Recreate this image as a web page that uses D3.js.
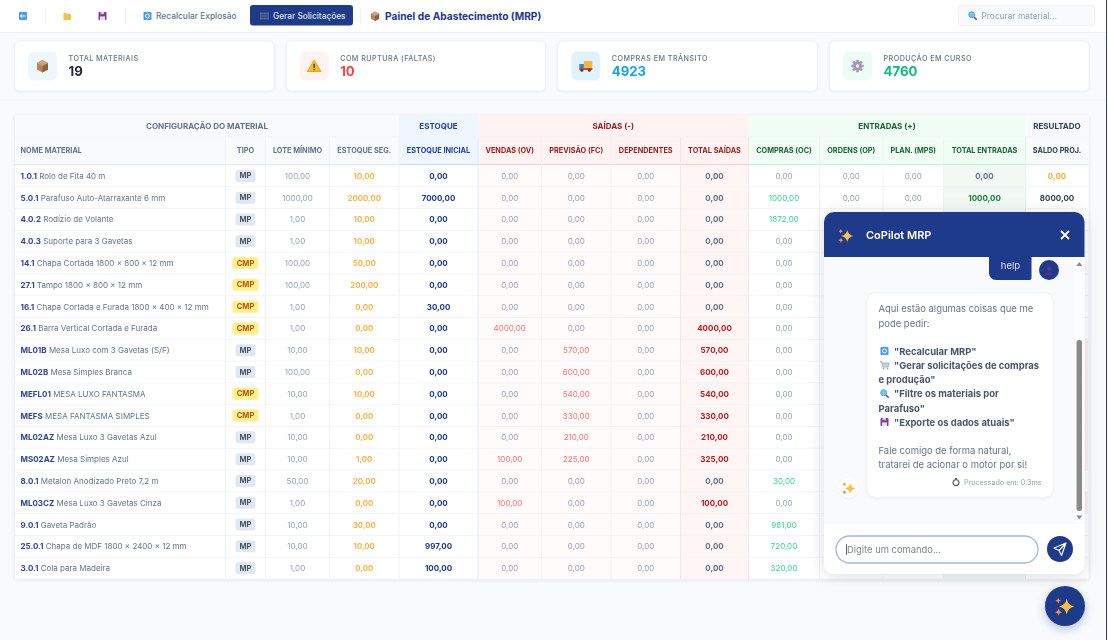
<!DOCTYPE html>
<html>
<head>
<meta charset="utf-8">
<script src="https://cdn.jsdelivr.net/npm/d3@7/dist/d3.min.js"></script>
<style>
  html, body { margin: 0; padding: 0; background: #f8fafc; overflow: hidden; }
  svg { display: block; font-family: Inter, "Noto Sans", sans-serif; filter: blur(0.3px); }
  text { dominant-baseline: central; }
</style>
</head>
<body>
<svg id="svg" width="1108" height="640"></svg>
<script>
// table values
var codes = ['1.0.1','5.0.1','4.0.2','4.0.3','14.1','27.1','16.1','26.1','ML01B','ML02B','MEFL01','MEFS','ML02AZ','MS02AZ','8.0.1','ML03CZ','9.0.1','25.0.1','3.0.1'];
var names = ['Rolo de Fita 40 m','Parafuso Auto-Atarraxante 6 mm','Rodízio de Volante','Suporte para 3 Gavetas','Chapa Cortada 1800 × 800 × 12 mm','Tampo 1800 × 800 × 12 mm','Chapa Cortada e Furada 1800 × 400 × 12 mm','Barra Vertical Cortada e Furada','Mesa Luxo com 3 Gavetas (S/F)','Mesa Simples Branca','MESA LUXO FANTASMA','MESA FANTASMA SIMPLES','Mesa Luxo 3 Gavetas Azul','Mesa Simples Azul','Metalon Anodizado Preto 7,2 m','Mesa Luxo 3 Gavetas Cinza','Gaveta Padrão','Chapa de MDF 1800 × 2400 × 12 mm','Cola para Madeira'];
var tipos = ['MP','MP','MP','MP','CMP','CMP','CMP','CMP','MP','MP','CMP','CMP','MP','MP','MP','MP','MP','MP','MP'];
var loteMinimo = [100,1000,1,1,100,100,1,1,10,100,10,1,10,10,50,1,10,10,1];
var estoqueSeg = [10,2000,10,10,50,200,0,0,10,0,10,0,0,1,20,0,30,10,0];
var estoqueInicial = [0,7000,0,0,0,0,30,0,0,0,0,0,0,0,0,0,0,997,100];
var vendas = [0,0,0,0,0,0,0,4000,0,0,0,0,0,100,0,100,0,0,0];
var previsao = [0,0,0,0,0,0,0,0,570,600,540,330,210,225,0,0,0,0,0];
var dependentes = [0,0,0,0,0,0,0,0,0,0,0,0,0,0,0,0,0,0,0];
var totalSaidas = [0,0,0,0,0,0,0,4000,570,600,540,330,210,325,0,100,0,0,0];
var compras = [0,1000,1872,0,0,0,0,0,0,0,0,0,0,0,30,0,981,720,320];
// the chat panel hides these columns below the second row
var ordens = [0,0];
var planMps = [0,0];
var totalEntradas = [0,1000];
var saldoProj = [0,8000];
// rows whose saldo cell shows a red tint past the panel edge
var saldoRuptura = [8,9,10,11,12,13,15];

var colKeys = ['nome','tipo','lote','seg','inicial','vendas','prev','dep','tsai','comp','ord','plan','tent','saldo'];
var colLabels = ['NOME MATERIAL','TIPO','LOTE MÍNIMO','ESTOQUE SEG.','ESTOQUE INICIAL','VENDAS (OV)','PREVISÃO (FC)','DEPENDENTES','TOTAL SAÍDAS','COMPRAS (OC)','ORDENS (OP)','PLAN. (MPS)','TOTAL ENTRADAS','SALDO PROJ.'];
var colEdges = [15,225.5,265.5,329.5,399,478,541.5,611,680.5,748.5,819.5,883,943.5,1025.5,1088.5];

var groupLabels = ['CONFIGURAÇÃO DO MATERIAL','ESTOQUE','SAÍDAS (-)','ENTRADAS (+)','RESULTADO'];
var groupSpans = [[0,4],[4,5],[5,9],[9,13],[13,14]];
var groupFill = ['#f8fafc','#eff6ff','#fef2f2','#f0fdf4','#f8fafc'];
var groupText = ['#64748b','#1e40af','#991b1b','#166534','#334155'];
var groupLine = ['#e2e8f0','#bfdbfe','#fecaca','#bbf7d0','#e2e8f0'];

var kpiLabels = ['TOTAL MATERIAIS','COM RUPTURA (FALTAS)','COMPRAS EM TRÂNSITO','PRODUÇÃO EM CURSO'];
var kpiValues = ['19','10','4923','4760'];
var kpiColors = ['#1e293b','#ef4444','#0ea5e9','#10b981'];
var kpiTints = ['#eff6ff','#fef2f2','#e0f2fe','#ecfdf5'];
var kpiIcons = ['box','warn','truck','gear'];

var chatLines = [
  {t:'Aqui estão algumas coisas que me', y:308},
  {t:'pode pedir:', y:323},
  {t:'"Recalcular MRP"', y:351, b:1, icon:'refresh'},
  {t:'"Gerar solicitações de compras', y:365, b:1, icon:'cart'},
  {t:'e produção"', y:379.5, b:1, flush:1},
  {t:'"Filtre os materiais por', y:393.5, b:1, icon:'lens'},
  {t:'Parafuso"', y:408, b:1, flush:1},
  {t:'"Exporte os dados atuais"', y:422, b:1, icon:'floppy'},
  {t:'Fale comigo de forma natural,', y:450},
  {t:'tratarei de acionar o motor por si!', y:464}
];

var NAVY = '#1e3a8a';
var svg = d3.select('#svg');
var fmt = function(v) { return d3.format('.2f')(v).replace('.', ','); };

var colLeft = d3.scaleOrdinal(colKeys, colEdges.slice(0, -1));
var colRight = d3.scaleOrdinal(colKeys, colEdges.slice(1));
var colMid = function(k) { return (colLeft(k) + colRight(k)) / 2; };
var rowY = d3.scaleBand().domain(d3.range(codes.length)).range([165, 579]);

drawToolbar();
drawKpis();
drawTable();
drawChat();

function txt(g, x, y, s, size, color, weight, anchor) {
  return g.append('text').attr('x', x).attr('y', y).text(s)
    .attr('font-size', size).attr('fill', color)
    .attr('font-weight', weight || 400).attr('text-anchor', anchor || 'start');
}

// small hand drawn stand-ins for the emoji, no emoji font here
function icon(g, type, cx, cy, s) {
  var i = g.append('g').attr('transform', 'translate(' + cx + ',' + cy + ') scale(' + (s || 1) + ')');
  if (type === 'box') {
    i.append('path').attr('d', 'M0,-6 L5.5,-3 L5.5,3.5 L0,6.5 L-5.5,3.5 L-5.5,-3 Z').attr('fill', '#b5835a');
    i.append('path').attr('d', 'M0,0 L5.5,-3 L5.5,3.5 L0,6.5 Z').attr('fill', '#8d6239');
    i.append('path').attr('d', 'M0,-6 L5.5,-3 L0,0 L-5.5,-3 Z').attr('fill', '#d0a27a');
  } else if (type === 'warn') {
    i.append('path').attr('d', 'M0,-6 L6.8,5.5 L-6.8,5.5 Z').attr('fill', '#fbbf24').attr('stroke', '#f59e0b').attr('stroke-linejoin', 'round');
    i.append('rect').attr('x', -0.7).attr('y', -2.2).attr('width', 1.4).attr('height', 4.2).attr('fill', '#334155');
    i.append('circle').attr('cy', 3.6).attr('r', 0.8).attr('fill', '#334155');
  } else if (type === 'truck') {
    i.append('rect').attr('x', -2).attr('y', -5).attr('width', 8.5).attr('height', 7).attr('fill', '#f5b942');
    i.append('rect').attr('x', -6.5).attr('y', -2).attr('width', 4.5).attr('height', 4).attr('fill', '#3b82c4');
    i.append('rect').attr('x', -6.5).attr('y', 2).attr('width', 13).attr('height', 2).attr('fill', '#dc3f3f');
    i.selectAll('circle').data([-4, 3.5]).enter().append('circle').attr('cx', function(d) { return d; }).attr('cy', 4.3).attr('r', 1.5).attr('fill', '#374151');
  } else if (type === 'gear') {
    i.selectAll('rect').data(d3.range(8)).enter().append('rect')
      .attr('x', -1.3).attr('y', -6.2).attr('width', 2.6).attr('height', 3)
      .attr('fill', '#a394bd').attr('transform', function(d) { return 'rotate(' + d * 45 + ')'; });
    i.append('circle').attr('r', 4.2).attr('fill', '#a394bd');
    i.append('circle').attr('r', 1.7).attr('fill', '#ecfdf5');
  } else if (type === 'back' || type === 'refresh') {
    i.append('rect').attr('x', -4).attr('y', -4).attr('width', 8).attr('height', 8).attr('rx', 1).attr('fill', '#4a9ae8');
    if (type === 'back') {
      i.append('path').attr('d', 'M2.5,0 L-2.5,0 M-0.5,-1.8 L-2.5,0 L-0.5,1.8').attr('stroke', '#fff').attr('stroke-width', 1).attr('fill', 'none');
    } else {
      i.append('circle').attr('r', 2).attr('fill', 'none').attr('stroke', '#fff').attr('stroke-width', 1);
    }
  } else if (type === 'folder') {
    i.append('path').attr('d', 'M-4,-3.5 L-1,-3.5 L0,-2.5 L3.5,-2.5 L3.5,3.5 L-4,3.5 Z').attr('fill', '#f9c04e');
  } else if (type === 'floppy') {
    i.append('rect').attr('x', -4).attr('y', -4).attr('width', 8).attr('height', 8).attr('rx', 0.8).attr('fill', '#7b3f8f');
    i.append('rect').attr('x', -2.5).attr('y', 0.4).attr('width', 5).attr('height', 3.6).attr('fill', '#eadcf0');
    i.append('rect').attr('x', -2).attr('y', -4).attr('width', 3.6).attr('height', 2.2).attr('fill', '#d9c7e2');
  } else if (type === 'cart') {
    i.append('path').attr('d', 'M-4.5,-3.5 L-3,-3.5 L-1.5,2 L3.5,2 L4.5,-2 L-2.5,-2').attr('fill', '#cbd5e1').attr('stroke', '#94a3b8').attr('stroke-width', 0.8);
    i.selectAll('circle').data([-1, 3]).enter().append('circle').attr('cx', function(d) { return d; }).attr('cy', 3.6).attr('r', 0.9).attr('fill', '#94a3b8');
  } else if (type === 'lens') {
    i.append('path').attr('d', 'M1.5,1.5 L4.2,4.2').attr('stroke', '#8b3a8f').attr('stroke-width', 1.6);
    i.append('circle').attr('cx', -0.8).attr('cy', -0.8).attr('r', 3).attr('fill', '#7cc4ef').attr('stroke', '#3a9ad9').attr('stroke-width', 0.8);
  } else if (type === 'cogs') {
    i.append('rect').attr('x', -4.5).attr('y', -3.5).attr('width', 9).attr('height', 7).attr('fill', '#64748b').attr('opacity', 0.85);
    i.append('path').attr('d', 'M-4.5,-1 H4.5 M-4.5,1 H4.5 M-1.5,-3.5 V3.5 M1.5,-3.5 V3.5').attr('stroke', '#1e3a8a').attr('stroke-width', 0.6);
  } else if (type === 'clock') {
    i.append('circle').attr('cy', 0.6).attr('r', 3).attr('fill', '#fff').attr('stroke', '#6b5a80').attr('stroke-width', 1.2);
    i.append('rect').attr('x', -1).attr('y', -4).attr('width', 2).attr('height', 1.2).attr('fill', '#6b5a80');
  } else if (type === 'spark') {
    var star = 'M0,-5 Q0.8,-0.8 5,0 Q0.8,0.8 0,5 Q-0.8,0.8 -5,0 Q-0.8,-0.8 0,-5 Z';
    i.append('path').attr('d', star).attr('fill', '#fbbf4a').attr('transform', 'translate(1.2,0.4) scale(1.15)');
    i.append('path').attr('d', star).attr('fill', '#f98f3c').attr('transform', 'translate(-5,-4) scale(0.42)');
    i.append('path').attr('d', star).attr('fill', '#f98f3c').attr('transform', 'translate(-4.8,4.6) scale(0.5)');
  }
  return i;
}

function drawToolbar() {
  var g = svg.append('g');
  g.append('rect').attr('width', 1108).attr('height', 32).attr('fill', '#ffffff');
  g.append('line').attr('x1', 0).attr('x2', 1108).attr('y1', 32.5).attr('y2', 32.5).attr('stroke', '#edf0f5');
  g.selectAll('line.sep').data([45.5, 125.5, 360.5]).enter().append('line').attr('class', 'sep')
    .attr('x1', function(d) { return d; }).attr('x2', function(d) { return d; })
    .attr('y1', 8).attr('y2', 24).attr('stroke', '#eef1f5');
  icon(g, 'back', 23, 16);
  icon(g, 'folder', 67.5, 16.5);
  icon(g, 'floppy', 102.5, 16);
  icon(g, 'refresh', 147.5, 16);
  txt(g, 156, 16, 'Recalcular Explosão', 8.4, '#64748b', 500);
  g.append('rect').attr('x', 250).attr('y', 5).attr('width', 103).attr('height', 20.5).attr('rx', 3).attr('fill', NAVY);
  icon(g, 'cogs', 264.5, 16);
  txt(g, 273, 16, 'Gerar Solicitações', 8.3, '#dbe3f3', 500);
  icon(g, 'box', 375, 16, 0.75);
  txt(g, 385, 16, 'Painel de Abastecimento (MRP)', 10.2, NAVY, 700);
  g.append('rect').attr('x', 958.5).attr('y', 5.5).attr('width', 136.5).attr('height', 20).attr('rx', 3.5)
    .attr('fill', '#f8fafc').attr('stroke', '#eef1f5');
  icon(g, 'lens', 972.5, 15.5);
  txt(g, 981.5, 15.5, 'Procurar material...', 8.4, '#94a3b8');

  g.append('line').attr('x1', 0).attr('x2', 1108).attr('y1', 100).attr('y2', 100).attr('stroke', '#eff2f6');
}

function drawKpis() {
  var cardX = d3.scaleLinear().domain([0, 3]).range([14.5, 829.5]);
  var cards = svg.selectAll('g.kpi').data(kpiLabels).enter().append('g').attr('class', 'kpi')
    .attr('transform', function(d, i) { return 'translate(' + cardX(i) + ',41)'; });
  cards.append('rect').attr('width', 259.5).attr('height', 50).attr('rx', 5).attr('fill', '#fff')
    .attr('stroke', '#eef1f5').style('filter', 'drop-shadow(0 1px 1.5px rgba(15,23,42,0.05))');
  cards.append('rect').attr('x', 13.5).attr('y', 10.5).attr('width', 29).attr('height', 29).attr('rx', 6)
    .attr('fill', function(d, i) { return kpiTints[i]; });
  cards.each(function(d, i) {
    var c = d3.select(this);
    icon(c, kpiIcons[i], 28, 25, 1);
    txt(c, 54, 17, d, 7.2, '#64748b', 500).attr('letter-spacing', 0.45);
    txt(c, 54, 30, kpiValues[i], 13.2, kpiColors[i], 700);
  });
}

function cellStyles(values, on, off) {
  return values.map(function(v) { return v !== 0 ? on : off; });
}

function drawTable() {
  var g = svg.append('g');
  var GRAY = '#94a3b8';
  g.append('rect').attr('x', 15).attr('y', 115).attr('width', 1073.5).attr('height', 464).attr('fill', '#fff')
    .style('filter', 'drop-shadow(0 1px 2px rgba(15,23,42,0.1))');

  // group header row and column header row
  groupLabels.forEach(function(label, i) {
    var a = colKeys[groupSpans[i][0]], b = colKeys[groupSpans[i][1] - 1];
    g.append('rect').attr('x', colLeft(a)).attr('y', 115).attr('width', colRight(b) - colLeft(a)).attr('height', 50).attr('fill', groupFill[i]);
    txt(g, (colLeft(a) + colRight(b)) / 2 , 126, label, 8, groupText[i], 700, 'middle');
    g.append('line').attr('x1', colLeft(a)).attr('x2', colRight(b)).attr('y1', 164.5).attr('y2', 164.5).attr('stroke', groupLine[i]).attr('stroke-width', 1);
    g.append('line').attr('x1', colLeft(a)).attr('x2', colRight(b)).attr('y1', 137).attr('y2', 137).attr('stroke', '#f1f5f9');
  });
  var colGroup = function(j) { return groupSpans.findIndex(function(s) { return j >= s[0] && j < s[1]; }); };

  // faint tints behind the body columns
  g.append('rect').attr('x', colLeft('vendas')).attr('y', 165).attr('width', colLeft('tsai') - colLeft('vendas')).attr('height', 414).attr('fill', '#fffbfa');
  g.append('rect').attr('x', colLeft('tsai')).attr('y', 165).attr('width', colRight('tsai') - colLeft('tsai')).attr('height', 414).attr('fill', '#fef5f4');
  g.append('rect').attr('x', colLeft('tent')).attr('y', 165).attr('width', colRight('tent') - colLeft('tent')).attr('height', 414).attr('fill', '#f2f9f4');
  g.selectAll('rect.rupt').data(saldoRuptura).enter().append('rect').attr('class', 'rupt')
    .attr('x', colLeft('saldo')).attr('width', colRight('saldo') - colLeft('saldo'))
    .attr('y', function(d) { return rowY(d); }).attr('height', rowY.bandwidth())
    .attr('fill', '#fdf0ee');

  // grid lines
  g.selectAll('line.row').data(d3.range(1, codes.length + 1)).enter().append('line').attr('class', 'row')
    .attr('x1', 15).attr('x2', 1088.5)
    .attr('y1', function(d) { return rowY(d - 1) + rowY.bandwidth(); })
    .attr('y2', function(d) { return rowY(d - 1) + rowY.bandwidth(); })
    .attr('stroke', '#f1f4f8');
  g.selectAll('line.col').data(colKeys.slice(1)).enter().append('line').attr('class', 'col')
    .attr('x1', colLeft).attr('x2', colLeft).attr('y1', 137).attr('y2', 579)
    .attr('stroke', function(k) {
      if (k === 'vendas') return '#dbeafe';
      if (k === 'tsai' || k === 'comp') return '#fbe4e4';
      if (k === 'saldo') return '#dff5e6';
      return '#eff2f7';
    });

  // column labels
  colLabels.forEach(function(label, j) {
    var k = colKeys[j], gi = colGroup(j);
    var color = gi === 0 ? '#64748b' : groupText[gi];
    if (j === 0) txt(g, colLeft(k) + 5.5, 150, label, 7.3, color, 700);
    else txt(g, colMid(k), 150, label, 7.3, color, 700, 'middle');
  });

  // first column: code + name
  var nameTxt = g.selectAll('text.name').data(codes).enter().append('text').attr('class', 'name')
    .attr('x', colLeft('nome') + 5.5)
    .attr('y', function(d, i) { return rowY(i) + rowY.bandwidth() / 2; })
    .attr('font-size', 8);
  nameTxt.append('tspan').attr('font-weight', 700).attr('fill', '#2f4596').text(function(d) { return d; });
  nameTxt.append('tspan').attr('fill', '#64748b').text(function(d, i) { return ' ' + names[i]; });

  // tipo badges
  var badges = g.selectAll('g.badge').data(tipos).enter().append('g').attr('class', 'badge')
    .attr('transform', function(d, i) { return 'translate(' + colMid('tipo') + ',' + (rowY(i) + rowY.bandwidth() / 2) + ')'; });
  badges.append('rect')
    .attr('x', function(d) { return d === 'MP' ? -10 : -13; })
    .attr('width', function(d) { return d === 'MP' ? 20 : 26; })
    .attr('y', -6).attr('height', 12).attr('rx', 2.5)
    .attr('fill', function(d) { return d === 'MP' ? '#e2e8f0' : '#fef08a'; });
  badges.append('text').text(function(d) { return d; }).attr('text-anchor', 'middle')
    .attr('font-size', 7.6).attr('font-weight', 700)
    .attr('fill', function(d) { return d === 'MP' ? '#475569' : '#b45309'; });

  // numeric columns
  function numCol(key, values, weight, colors) {
    g.selectAll('text.c-' + key).data(values).enter().append('text').attr('class', 'c-' + key)
      .attr('x', colMid(key))
      .attr('y', function(d, i) { return rowY(i) + rowY.bandwidth() / 2; })
      .attr('text-anchor', 'middle').attr('font-size', 8).attr('font-weight', weight)
      .attr('fill', function(d, i) { return colors[i]; })
      .text(fmt);
  }
  numCol('lote', loteMinimo, 400, loteMinimo.map(function() { return GRAY; }));
  numCol('seg', estoqueSeg, 600, estoqueSeg.map(function() { return '#fbac38'; }));
  numCol('inicial', estoqueInicial, 700, estoqueInicial.map(function() { return NAVY; }));
  numCol('vendas', vendas, 400, cellStyles(vendas, '#f87171', GRAY));
  numCol('prev', previsao, 400, cellStyles(previsao, '#f87171', GRAY));
  numCol('dep', dependentes, 400, cellStyles(dependentes, '#f87171', GRAY));
  numCol('tsai', totalSaidas, 700, cellStyles(totalSaidas, '#b91c1c', '#64748b'));
  numCol('comp', compras, 400, cellStyles(compras, '#34d399', GRAY));
  numCol('ord', ordens, 400, ordens.map(function() { return GRAY; }));
  numCol('plan', planMps, 400, planMps.map(function() { return GRAY; }));
  numCol('tent', totalEntradas, 700, cellStyles(totalEntradas, '#15803d', '#64748b'));
  numCol('saldo', saldoProj, 700, ['#fbac38', '#334155']);
}

function drawChat() {
  var g = svg.append('g');
  // panel
  g.append('rect').attr('x', 824).attr('y', 212).attr('width', 260.5).attr('height', 362).attr('rx', 10).attr('fill', '#f8fafc')
    .style('filter', 'drop-shadow(0 2px 8px rgba(15,23,42,0.14))');
  g.append('path').attr('d', 'M824,257 V222 A10,10 0 0 1 834,212 H1074.5 A10,10 0 0 1 1084.5,222 V257 Z').attr('fill', NAVY);
  icon(g, 'spark', 846, 235.5, 1.05);
  txt(g, 866, 235, 'CoPilot MRP', 11, '#fff', 600);
  g.append('path').attr('d', 'M1061,231 L1069,239 M1069,231 L1061,239').attr('stroke', '#fff').attr('stroke-width', 1.8);

  // footer
  g.append('path').attr('d', 'M824,524 H1084.5 V564 A10,10 0 0 1 1074.5,574 H834 A10,10 0 0 1 824,564 Z').attr('fill', '#fff');
  g.append('rect').attr('x', 836).attr('y', 536).attr('width', 202).attr('height', 27).attr('rx', 13.5)
    .attr('fill', '#fff').attr('stroke', '#a9b6d9').attr('stroke-width', 1.3);
  g.append('line').attr('x1', 846.5).attr('x2', 846.5).attr('y1', 544).attr('y2', 555).attr('stroke', '#334155').attr('stroke-width', 0.8);
  txt(g, 847, 549.5, 'Digite um comando...', 9.4, '#7b8494');
  g.append('circle').attr('cx', 1060).attr('cy', 549).attr('r', 13).attr('fill', NAVY);
  g.append('path').attr('d', 'M1066,543 L1054,548 L1059,550.5 L1061.5,555.5 Z M1066,543 L1059,550.5').attr('fill', 'none').attr('stroke', '#fff').attr('stroke-width', 1.2).attr('stroke-linejoin', 'round');

  // scrollbar
  g.append('rect').attr('x', 1074.5).attr('y', 257).attr('width', 10).attr('height', 267).attr('fill', '#fbfcfd');
  g.append('rect').attr('x', 1076.5).attr('y', 340).attr('width', 5.5).attr('height', 171).attr('rx', 2.5).attr('fill', '#8a8a8a');
  g.append('path').attr('d', 'M1079.3,262 L1082.3,266 L1076.3,266 Z').attr('fill', '#8a8a8a');
  g.append('path').attr('d', 'M1079.3,519.5 L1082.3,515.5 L1076.3,515.5 Z').attr('fill', '#8a8a8a');

  // user bubble
  g.append('path').attr('d', 'M989,257 H1031.5 V278 A2,2 0 0 1 1029.5,280 H996 A7,7 0 0 1 989,273 Z').attr('fill', NAVY);
  txt(g, 1010.5, 265, 'help', 9.6, '#dbe3f3', 400, 'middle');
  g.append('circle').attr('cx', 1049).attr('cy', 270).attr('r', 10).attr('fill', NAVY);
  g.append('circle').attr('cx', 1049).attr('cy', 268.5).attr('r', 2.4).attr('fill', '#6b2a7d');
  g.append('path').attr('d', 'M1044.5,275 Q1049,270 1053.5,275 Z').attr('fill', '#6b2a7d');

  // answer bubble
  g.append('rect').attr('x', 867).attr('y', 293).attr('width', 186).attr('height', 204).attr('rx', 8).attr('fill', '#fff')
    .attr('stroke', '#f1f4f8').style('filter', 'drop-shadow(0 1px 1.5px rgba(15,23,42,0.05))');
  chatLines.forEach(function(l) {
    var x = l.icon ? 894 : 878.5;
    txt(g, x, l.y, l.t, 9.45, l.b ? '#475569' : '#64748b', l.b ? 700 : 400);
    if (l.icon) icon(g, l.icon, 884.5, l.y, 1);
  });
  icon(g, 'clock', 956, 482, 1);
  txt(g, 1041.5, 482, 'Processado em: 0.3ms', 7.2, '#94a3b8', 400, 'end');
  g.append('circle').attr('cx', 848.5).attr('cy', 488).attr('r', 10).attr('fill', '#fff')
    .style('filter', 'drop-shadow(0 1px 1px rgba(15,23,42,0.06))');
  icon(g, 'spark', 849, 488, 0.95);

  // floating button
  g.append('circle').attr('cx', 1065).attr('cy', 606).attr('r', 20).attr('fill', NAVY)
    .style('filter', 'drop-shadow(0 3px 5px rgba(30,58,138,0.3))');
  icon(g, 'spark', 1065, 606, 1.35);

  // window edge
  g.append('rect').attr('x', 1106).attr('y', 0).attr('width', 1).attr('height', 640).attr('fill', '#33415e');
}
</script>
</body>
</html>
